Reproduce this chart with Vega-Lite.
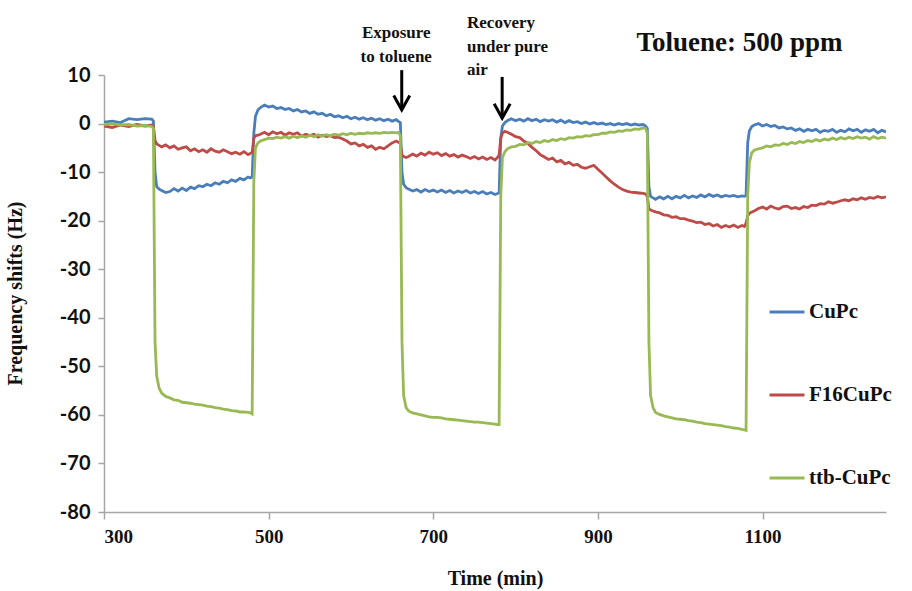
{
  "$schema": "https://vega.github.io/schema/vega-lite/v6.json",
  "width": 782,
  "height": 437,
  "autosize": {"type": "none"},
  "padding": {"left": 104, "top": 75, "right": 26, "bottom": 79},
  "background": "white",
  "config": {"view": {"stroke": null}},
  "datasets": {
    "series": [
      {"t": 300, "CuPc": 0.3, "F16CuPc": -0.5, "ttb-CuPc": -0.2},
      {"t": 310, "CuPc": 0.5, "F16CuPc": -0.8, "ttb-CuPc": 0.0},
      {"t": 320, "CuPc": 0.2, "F16CuPc": -0.3, "ttb-CuPc": -0.3},
      {"t": 330, "CuPc": 1.0, "F16CuPc": -0.6, "ttb-CuPc": -0.2},
      {"t": 340, "CuPc": 0.8, "F16CuPc": -0.2, "ttb-CuPc": -0.5},
      {"t": 350, "CuPc": 1.0, "F16CuPc": -0.5, "ttb-CuPc": -0.4},
      {"t": 358, "CuPc": 0.9, "F16CuPc": -0.3, "ttb-CuPc": -0.6},
      {"t": 360, "CuPc": 0.5, "F16CuPc": -0.6, "ttb-CuPc": -1.0},
      {"t": 362, "CuPc": -10, "F16CuPc": -3.5, "ttb-CuPc": -45},
      {"t": 364, "CuPc": -13, "F16CuPc": -4.2, "ttb-CuPc": -52},
      {"t": 367, "CuPc": -13.5, "F16CuPc": -4.5, "ttb-CuPc": -54.5},
      {"t": 370, "CuPc": -13.8, "F16CuPc": -4.8, "ttb-CuPc": -55.5},
      {"t": 375, "CuPc": -14.2, "F16CuPc": -4.4, "ttb-CuPc": -56.2},
      {"t": 380, "CuPc": -14.0, "F16CuPc": -5.0, "ttb-CuPc": -56.5},
      {"t": 385, "CuPc": -13.4, "F16CuPc": -4.6, "ttb-CuPc": -56.9},
      {"t": 390, "CuPc": -13.9, "F16CuPc": -5.3, "ttb-CuPc": -57.0},
      {"t": 395, "CuPc": -13.3, "F16CuPc": -5.0, "ttb-CuPc": -57.4},
      {"t": 400, "CuPc": -13.8, "F16CuPc": -4.8, "ttb-CuPc": -57.5},
      {"t": 405, "CuPc": -13.1, "F16CuPc": -5.6, "ttb-CuPc": -57.6},
      {"t": 410, "CuPc": -13.4, "F16CuPc": -5.2, "ttb-CuPc": -57.8},
      {"t": 415, "CuPc": -12.8, "F16CuPc": -5.8, "ttb-CuPc": -57.9},
      {"t": 420, "CuPc": -13.0, "F16CuPc": -5.4, "ttb-CuPc": -58.0},
      {"t": 425, "CuPc": -12.5, "F16CuPc": -5.9, "ttb-CuPc": -58.2},
      {"t": 430, "CuPc": -12.8, "F16CuPc": -5.2, "ttb-CuPc": -58.3},
      {"t": 435, "CuPc": -12.2, "F16CuPc": -5.7, "ttb-CuPc": -58.5},
      {"t": 440, "CuPc": -12.5, "F16CuPc": -5.9, "ttb-CuPc": -58.6},
      {"t": 445, "CuPc": -11.9, "F16CuPc": -5.4, "ttb-CuPc": -58.8},
      {"t": 450, "CuPc": -12.2, "F16CuPc": -5.8, "ttb-CuPc": -58.9},
      {"t": 455, "CuPc": -11.6, "F16CuPc": -6.2, "ttb-CuPc": -59.1},
      {"t": 460, "CuPc": -11.9, "F16CuPc": -5.9, "ttb-CuPc": -59.2},
      {"t": 465, "CuPc": -11.3, "F16CuPc": -6.3, "ttb-CuPc": -59.4},
      {"t": 470, "CuPc": -11.6, "F16CuPc": -5.8, "ttb-CuPc": -59.4},
      {"t": 475, "CuPc": -11.0, "F16CuPc": -6.4, "ttb-CuPc": -59.5},
      {"t": 478, "CuPc": -11.2, "F16CuPc": -6.1, "ttb-CuPc": -59.6},
      {"t": 480, "CuPc": -11.0, "F16CuPc": -6.0, "ttb-CuPc": -59.8},
      {"t": 482, "CuPc": -2, "F16CuPc": -3.0, "ttb-CuPc": -12},
      {"t": 484, "CuPc": 1.5, "F16CuPc": -2.5, "ttb-CuPc": -5},
      {"t": 487, "CuPc": 2.8, "F16CuPc": -2.4, "ttb-CuPc": -4},
      {"t": 490, "CuPc": 3.3, "F16CuPc": -2.2, "ttb-CuPc": -3.6},
      {"t": 495, "CuPc": 3.8, "F16CuPc": -1.8, "ttb-CuPc": -3.3},
      {"t": 500, "CuPc": 3.4, "F16CuPc": -2.3, "ttb-CuPc": -3.0},
      {"t": 505, "CuPc": 3.6, "F16CuPc": -1.7, "ttb-CuPc": -3.1},
      {"t": 510, "CuPc": 3.1, "F16CuPc": -2.1, "ttb-CuPc": -2.8},
      {"t": 515, "CuPc": 3.3, "F16CuPc": -1.8, "ttb-CuPc": -3.0},
      {"t": 520, "CuPc": 2.9, "F16CuPc": -2.4, "ttb-CuPc": -2.7},
      {"t": 525, "CuPc": 3.1, "F16CuPc": -1.9, "ttb-CuPc": -3.0},
      {"t": 530, "CuPc": 2.6, "F16CuPc": -2.2, "ttb-CuPc": -2.6},
      {"t": 535, "CuPc": 2.9, "F16CuPc": -1.9, "ttb-CuPc": -2.9},
      {"t": 540, "CuPc": 2.4, "F16CuPc": -2.6, "ttb-CuPc": -2.5},
      {"t": 545, "CuPc": 2.6, "F16CuPc": -2.2, "ttb-CuPc": -2.8},
      {"t": 550, "CuPc": 2.1, "F16CuPc": -2.5, "ttb-CuPc": -2.4},
      {"t": 555, "CuPc": 2.4, "F16CuPc": -2.2, "ttb-CuPc": -2.7},
      {"t": 560, "CuPc": 1.9, "F16CuPc": -2.8, "ttb-CuPc": -2.3},
      {"t": 565, "CuPc": 2.1, "F16CuPc": -2.4, "ttb-CuPc": -2.6},
      {"t": 570, "CuPc": 1.6, "F16CuPc": -2.7, "ttb-CuPc": -2.3},
      {"t": 575, "CuPc": 1.9, "F16CuPc": -2.5, "ttb-CuPc": -2.5},
      {"t": 580, "CuPc": 1.4, "F16CuPc": -2.9, "ttb-CuPc": -2.2},
      {"t": 585, "CuPc": 1.6, "F16CuPc": -2.8, "ttb-CuPc": -2.4},
      {"t": 590, "CuPc": 1.2, "F16CuPc": -3.2, "ttb-CuPc": -2.1},
      {"t": 595, "CuPc": 1.5, "F16CuPc": -3.6, "ttb-CuPc": -2.3},
      {"t": 600, "CuPc": 1.0, "F16CuPc": -4.2, "ttb-CuPc": -2.0},
      {"t": 605, "CuPc": 1.3, "F16CuPc": -4.0, "ttb-CuPc": -2.2},
      {"t": 610, "CuPc": 0.9, "F16CuPc": -4.6, "ttb-CuPc": -2.0},
      {"t": 615, "CuPc": 1.2, "F16CuPc": -4.3, "ttb-CuPc": -2.1},
      {"t": 620, "CuPc": 0.8, "F16CuPc": -4.9, "ttb-CuPc": -1.9},
      {"t": 625, "CuPc": 1.1, "F16CuPc": -4.6, "ttb-CuPc": -2.0},
      {"t": 630, "CuPc": 0.7, "F16CuPc": -5.3, "ttb-CuPc": -1.9},
      {"t": 635, "CuPc": 1.0, "F16CuPc": -4.9, "ttb-CuPc": -2.0},
      {"t": 640, "CuPc": 0.6, "F16CuPc": -5.2, "ttb-CuPc": -1.8},
      {"t": 645, "CuPc": 0.9, "F16CuPc": -4.6, "ttb-CuPc": -1.9},
      {"t": 650, "CuPc": 0.5, "F16CuPc": -4.0, "ttb-CuPc": -1.8},
      {"t": 655, "CuPc": 0.8, "F16CuPc": -3.6, "ttb-CuPc": -1.9},
      {"t": 658, "CuPc": 0.4, "F16CuPc": -3.9, "ttb-CuPc": -1.8},
      {"t": 660, "CuPc": 0.2, "F16CuPc": -4.0, "ttb-CuPc": -2.5},
      {"t": 662, "CuPc": -10, "F16CuPc": -6.5, "ttb-CuPc": -45},
      {"t": 664, "CuPc": -12.5, "F16CuPc": -6.8, "ttb-CuPc": -56},
      {"t": 667, "CuPc": -13.2, "F16CuPc": -7.0, "ttb-CuPc": -58.5},
      {"t": 670, "CuPc": -13.5, "F16CuPc": -6.8, "ttb-CuPc": -59.2},
      {"t": 675, "CuPc": -13.9, "F16CuPc": -6.3, "ttb-CuPc": -59.6},
      {"t": 680, "CuPc": -13.6, "F16CuPc": -6.7, "ttb-CuPc": -59.8},
      {"t": 685, "CuPc": -14.1, "F16CuPc": -6.1, "ttb-CuPc": -60.0},
      {"t": 690, "CuPc": -13.6, "F16CuPc": -6.5, "ttb-CuPc": -60.2},
      {"t": 695, "CuPc": -14.0, "F16CuPc": -5.9, "ttb-CuPc": -60.4},
      {"t": 700, "CuPc": -13.7, "F16CuPc": -6.3, "ttb-CuPc": -60.5},
      {"t": 705, "CuPc": -14.1, "F16CuPc": -6.0, "ttb-CuPc": -60.5},
      {"t": 710, "CuPc": -13.7, "F16CuPc": -6.6, "ttb-CuPc": -60.6},
      {"t": 715, "CuPc": -14.2, "F16CuPc": -6.2, "ttb-CuPc": -60.8},
      {"t": 720, "CuPc": -13.8, "F16CuPc": -6.7, "ttb-CuPc": -60.9},
      {"t": 725, "CuPc": -14.3, "F16CuPc": -6.4, "ttb-CuPc": -61.0},
      {"t": 730, "CuPc": -13.9, "F16CuPc": -6.9, "ttb-CuPc": -61.1},
      {"t": 735, "CuPc": -14.2, "F16CuPc": -6.5, "ttb-CuPc": -61.2},
      {"t": 740, "CuPc": -13.8, "F16CuPc": -6.8, "ttb-CuPc": -61.3},
      {"t": 745, "CuPc": -14.3, "F16CuPc": -7.2, "ttb-CuPc": -61.4},
      {"t": 750, "CuPc": -14.0, "F16CuPc": -6.8, "ttb-CuPc": -61.5},
      {"t": 755, "CuPc": -14.4, "F16CuPc": -7.3, "ttb-CuPc": -61.5},
      {"t": 760, "CuPc": -14.0, "F16CuPc": -6.9, "ttb-CuPc": -61.6},
      {"t": 765, "CuPc": -14.5, "F16CuPc": -7.4, "ttb-CuPc": -61.7},
      {"t": 770, "CuPc": -14.2, "F16CuPc": -7.0, "ttb-CuPc": -61.8},
      {"t": 775, "CuPc": -14.6, "F16CuPc": -7.5, "ttb-CuPc": -61.9},
      {"t": 778, "CuPc": -14.4, "F16CuPc": -7.0, "ttb-CuPc": -62.0},
      {"t": 780, "CuPc": -14.3, "F16CuPc": -6.5, "ttb-CuPc": -62.0},
      {"t": 782, "CuPc": -3, "F16CuPc": -3.0, "ttb-CuPc": -15},
      {"t": 784, "CuPc": -0.5, "F16CuPc": -2.0, "ttb-CuPc": -7},
      {"t": 787, "CuPc": 0.2, "F16CuPc": -1.6, "ttb-CuPc": -5.8},
      {"t": 790, "CuPc": 0.6, "F16CuPc": -1.8, "ttb-CuPc": -5.2},
      {"t": 795, "CuPc": 1.0, "F16CuPc": -2.2, "ttb-CuPc": -4.8},
      {"t": 800, "CuPc": 0.6, "F16CuPc": -2.7, "ttb-CuPc": -4.7},
      {"t": 805, "CuPc": 0.9, "F16CuPc": -2.9, "ttb-CuPc": -4.3},
      {"t": 810, "CuPc": 0.5, "F16CuPc": -3.6, "ttb-CuPc": -4.4},
      {"t": 815, "CuPc": 1.0, "F16CuPc": -4.1, "ttb-CuPc": -3.9},
      {"t": 820, "CuPc": 0.6, "F16CuPc": -4.9, "ttb-CuPc": -4.1},
      {"t": 825, "CuPc": 0.9, "F16CuPc": -5.6, "ttb-CuPc": -3.7},
      {"t": 830, "CuPc": 0.4, "F16CuPc": -6.4, "ttb-CuPc": -3.9},
      {"t": 835, "CuPc": 0.8, "F16CuPc": -6.9, "ttb-CuPc": -3.5},
      {"t": 840, "CuPc": 0.5, "F16CuPc": -7.4, "ttb-CuPc": -3.7},
      {"t": 845, "CuPc": 0.8, "F16CuPc": -7.1, "ttb-CuPc": -3.3},
      {"t": 850, "CuPc": 0.3, "F16CuPc": -7.9, "ttb-CuPc": -3.5},
      {"t": 855, "CuPc": 0.7, "F16CuPc": -7.6, "ttb-CuPc": -3.1},
      {"t": 860, "CuPc": 0.2, "F16CuPc": -8.3, "ttb-CuPc": -3.3},
      {"t": 865, "CuPc": 0.6, "F16CuPc": -8.0, "ttb-CuPc": -2.9},
      {"t": 870, "CuPc": 0.2, "F16CuPc": -8.6, "ttb-CuPc": -3.0},
      {"t": 875, "CuPc": 0.4, "F16CuPc": -8.4, "ttb-CuPc": -2.7},
      {"t": 880, "CuPc": 0.0, "F16CuPc": -9.0, "ttb-CuPc": -2.8},
      {"t": 885, "CuPc": 0.3, "F16CuPc": -9.2, "ttb-CuPc": -2.5},
      {"t": 890, "CuPc": -0.1, "F16CuPc": -8.9, "ttb-CuPc": -2.6},
      {"t": 895, "CuPc": 0.2, "F16CuPc": -8.6, "ttb-CuPc": -2.3},
      {"t": 900, "CuPc": -0.1, "F16CuPc": -9.4, "ttb-CuPc": -2.3},
      {"t": 905, "CuPc": 0.1, "F16CuPc": -10.2, "ttb-CuPc": -2.0},
      {"t": 910, "CuPc": -0.2, "F16CuPc": -11.0, "ttb-CuPc": -2.0},
      {"t": 915, "CuPc": 0.0, "F16CuPc": -11.8, "ttb-CuPc": -1.7},
      {"t": 920, "CuPc": -0.3, "F16CuPc": -12.5, "ttb-CuPc": -1.8},
      {"t": 925, "CuPc": 0.0, "F16CuPc": -13.1, "ttb-CuPc": -1.5},
      {"t": 930, "CuPc": -0.2, "F16CuPc": -13.6, "ttb-CuPc": -1.6},
      {"t": 935, "CuPc": 0.0, "F16CuPc": -13.9, "ttb-CuPc": -1.3},
      {"t": 940, "CuPc": -0.3, "F16CuPc": -14.1, "ttb-CuPc": -1.4},
      {"t": 945, "CuPc": -0.1, "F16CuPc": -14.2, "ttb-CuPc": -1.1},
      {"t": 950, "CuPc": -0.3, "F16CuPc": -14.3, "ttb-CuPc": -1.2},
      {"t": 955, "CuPc": -0.2, "F16CuPc": -14.4, "ttb-CuPc": -0.9},
      {"t": 958, "CuPc": -0.5, "F16CuPc": -14.5, "ttb-CuPc": -1.0},
      {"t": 960, "CuPc": -1.0, "F16CuPc": -15.0, "ttb-CuPc": -2},
      {"t": 962, "CuPc": -13, "F16CuPc": -17.5, "ttb-CuPc": -45},
      {"t": 964, "CuPc": -15.0, "F16CuPc": -17.8, "ttb-CuPc": -56},
      {"t": 967, "CuPc": -15.3, "F16CuPc": -18.0, "ttb-CuPc": -58.5},
      {"t": 970, "CuPc": -15.6, "F16CuPc": -18.2, "ttb-CuPc": -59.5},
      {"t": 975, "CuPc": -15.1, "F16CuPc": -18.4, "ttb-CuPc": -59.9},
      {"t": 980, "CuPc": -15.5, "F16CuPc": -18.8, "ttb-CuPc": -60.2},
      {"t": 985, "CuPc": -15.0, "F16CuPc": -18.9, "ttb-CuPc": -60.4},
      {"t": 990, "CuPc": -15.5, "F16CuPc": -19.3, "ttb-CuPc": -60.6},
      {"t": 995, "CuPc": -15.0, "F16CuPc": -19.2, "ttb-CuPc": -60.8},
      {"t": 1000, "CuPc": -15.3, "F16CuPc": -19.6, "ttb-CuPc": -60.9},
      {"t": 1005, "CuPc": -14.8, "F16CuPc": -19.6, "ttb-CuPc": -61.0},
      {"t": 1010, "CuPc": -15.3, "F16CuPc": -19.9, "ttb-CuPc": -61.2},
      {"t": 1015, "CuPc": -14.9, "F16CuPc": -20.1, "ttb-CuPc": -61.3},
      {"t": 1020, "CuPc": -15.2, "F16CuPc": -20.4, "ttb-CuPc": -61.5},
      {"t": 1025, "CuPc": -14.7, "F16CuPc": -20.3, "ttb-CuPc": -61.6},
      {"t": 1030, "CuPc": -15.1, "F16CuPc": -20.8, "ttb-CuPc": -61.8},
      {"t": 1035, "CuPc": -14.6, "F16CuPc": -20.6, "ttb-CuPc": -61.9},
      {"t": 1040, "CuPc": -15.0, "F16CuPc": -21.1, "ttb-CuPc": -62.0},
      {"t": 1045, "CuPc": -14.7, "F16CuPc": -20.8, "ttb-CuPc": -62.1},
      {"t": 1050, "CuPc": -15.1, "F16CuPc": -21.4, "ttb-CuPc": -62.2},
      {"t": 1055, "CuPc": -14.8, "F16CuPc": -21.0, "ttb-CuPc": -62.4},
      {"t": 1060, "CuPc": -15.0, "F16CuPc": -21.3, "ttb-CuPc": -62.5},
      {"t": 1065, "CuPc": -14.8, "F16CuPc": -20.9, "ttb-CuPc": -62.7},
      {"t": 1070, "CuPc": -15.1, "F16CuPc": -21.4, "ttb-CuPc": -62.8},
      {"t": 1075, "CuPc": -14.9, "F16CuPc": -21.0, "ttb-CuPc": -63.0},
      {"t": 1078, "CuPc": -15.0, "F16CuPc": -21.2, "ttb-CuPc": -63.1},
      {"t": 1080, "CuPc": -14.8, "F16CuPc": -20.5, "ttb-CuPc": -63.2},
      {"t": 1082, "CuPc": -4, "F16CuPc": -19.0, "ttb-CuPc": -15},
      {"t": 1084, "CuPc": -1.5, "F16CuPc": -18.5, "ttb-CuPc": -8},
      {"t": 1087, "CuPc": -0.6, "F16CuPc": -18.2, "ttb-CuPc": -6},
      {"t": 1090, "CuPc": -0.3, "F16CuPc": -18.0, "ttb-CuPc": -5.5},
      {"t": 1095, "CuPc": 0.0, "F16CuPc": -17.5, "ttb-CuPc": -5.2},
      {"t": 1100, "CuPc": -0.5, "F16CuPc": -17.2, "ttb-CuPc": -5.0},
      {"t": 1105, "CuPc": -0.2, "F16CuPc": -17.6, "ttb-CuPc": -4.6},
      {"t": 1110, "CuPc": -0.6, "F16CuPc": -17.0, "ttb-CuPc": -4.8},
      {"t": 1115, "CuPc": -0.4, "F16CuPc": -17.4, "ttb-CuPc": -4.4},
      {"t": 1120, "CuPc": -0.9, "F16CuPc": -17.6, "ttb-CuPc": -4.5},
      {"t": 1125, "CuPc": -0.7, "F16CuPc": -17.1, "ttb-CuPc": -4.1},
      {"t": 1130, "CuPc": -1.1, "F16CuPc": -17.0, "ttb-CuPc": -4.3},
      {"t": 1135, "CuPc": -0.9, "F16CuPc": -17.5, "ttb-CuPc": -3.9},
      {"t": 1140, "CuPc": -1.4, "F16CuPc": -17.3, "ttb-CuPc": -4.1},
      {"t": 1145, "CuPc": -1.1, "F16CuPc": -17.6, "ttb-CuPc": -3.7},
      {"t": 1150, "CuPc": -1.6, "F16CuPc": -17.1, "ttb-CuPc": -3.9},
      {"t": 1155, "CuPc": -1.2, "F16CuPc": -17.3, "ttb-CuPc": -3.5},
      {"t": 1160, "CuPc": -1.5, "F16CuPc": -16.8, "ttb-CuPc": -3.7},
      {"t": 1165, "CuPc": -1.2, "F16CuPc": -16.9, "ttb-CuPc": -3.3},
      {"t": 1170, "CuPc": -1.8, "F16CuPc": -16.5, "ttb-CuPc": -3.6},
      {"t": 1175, "CuPc": -1.4, "F16CuPc": -16.6, "ttb-CuPc": -3.2},
      {"t": 1180, "CuPc": -1.6, "F16CuPc": -16.1, "ttb-CuPc": -3.4},
      {"t": 1185, "CuPc": -1.2, "F16CuPc": -16.4, "ttb-CuPc": -3.0},
      {"t": 1190, "CuPc": -1.8, "F16CuPc": -16.2, "ttb-CuPc": -3.3},
      {"t": 1195, "CuPc": -1.4, "F16CuPc": -15.9, "ttb-CuPc": -2.9},
      {"t": 1200, "CuPc": -1.7, "F16CuPc": -15.7, "ttb-CuPc": -3.2},
      {"t": 1205, "CuPc": -1.1, "F16CuPc": -15.9, "ttb-CuPc": -2.8},
      {"t": 1210, "CuPc": -1.5, "F16CuPc": -15.5, "ttb-CuPc": -3.1},
      {"t": 1215, "CuPc": -1.2, "F16CuPc": -15.7, "ttb-CuPc": -2.7},
      {"t": 1220, "CuPc": -1.8, "F16CuPc": -15.3, "ttb-CuPc": -3.0},
      {"t": 1225, "CuPc": -1.3, "F16CuPc": -15.6, "ttb-CuPc": -2.8},
      {"t": 1230, "CuPc": -1.6, "F16CuPc": -15.2, "ttb-CuPc": -3.2},
      {"t": 1235, "CuPc": -1.2, "F16CuPc": -15.4, "ttb-CuPc": -2.7},
      {"t": 1240, "CuPc": -1.9, "F16CuPc": -15.0, "ttb-CuPc": -3.1},
      {"t": 1245, "CuPc": -1.4, "F16CuPc": -15.3, "ttb-CuPc": -2.8},
      {"t": 1250, "CuPc": -1.7, "F16CuPc": -15.1, "ttb-CuPc": -3.0}
    ],
    "arrows": [
      {"t": 661.7, "top": 11.0, "tip": 2.8},
      {"t": 783.7, "top": 9.6, "tip": 1.1}
    ],
    "notesCenter": [
      {"t": 655, "v": 18.65, "label": "Exposure"},
      {"t": 655, "v": 13.7, "label": "to toluene"}
    ],
    "notesLeft": [
      {"t": 741, "v": 20.7, "label": "Recovery"},
      {"t": 741, "v": 15.8, "label": "under pure"},
      {"t": 741, "v": 11.0, "label": "air"}
    ],
    "heading": [
      {"t": 1072, "v": 16.6, "label": "Toluene: 500 ppm"}
    ]
  },
  "encoding": {
    "x": {
      "field": "t", "type": "quantitative",
      "scale": {"domain": [300, 1250], "nice": false, "zero": false},
      "axis": {
        "title": "Time (min)",
        "values": [300, 500, 700, 900, 1100],
        "labelExpr": "datum.value + ''",
        "grid": false,
        "domainColor": "#a6a6a6", "domainWidth": 1.5,
        "tickColor": "#a6a6a6", "tickWidth": 1.5, "tickSize": 7,
        "labelFont": "Liberation Serif", "labelFontWeight": "bold", "labelFontSize": 19, "labelColor": "#111",
        "labelPadding": 8,
        "titleFont": "Liberation Serif", "titleFontWeight": "bold", "titleFontSize": 20, "titleColor": "#111",
        "titleY": 66, "titleBaseline": "middle"
      }
    }
  },
  "layer": [
    {
      "data": {"name": "series"},
      "transform": [{"fold": ["CuPc", "F16CuPc", "ttb-CuPc"], "as": ["series", "value"]}],
      "mark": {"type": "line", "strokeWidth": 2.8, "clip": true},
      "encoding": {
        "y": {
          "field": "value", "type": "quantitative",
          "scale": {"domain": [-80, 10], "nice": false},
          "axis": {
            "title": "Frequency shifts (Hz)",
            "values": [-80, -70, -60, -50, -40, -30, -20, -10, 0, 10],
            "labelExpr": "datum.value + ''",
            "grid": false,
            "domainColor": "#a6a6a6", "domainWidth": 1.5,
            "tickColor": "#a6a6a6", "tickWidth": 1.5, "tickSize": 6,
            "labelFont": "Lato", "labelFontWeight": "bold", "labelFontSize": 20, "labelColor": "#111",
            "labelPadding": 8,
            "titleFont": "Liberation Serif", "titleFontWeight": "bold", "titleFontSize": 20, "titleColor": "#111",
            "titleX": -89, "titleY": 218, "titleAngle": 270, "titleAlign": "center", "titleBaseline": "middle"
          }
        },
        "color": {
          "field": "series", "type": "nominal",
          "scale": {"domain": ["CuPc", "F16CuPc", "ttb-CuPc"], "range": ["#4a7ebb", "#be4b48", "#98b954"]},
          "legend": {
            "title": null,
            "orient": "none",
            "legendX": 664,
            "legendY": 218,
            "direction": "vertical",
            "symbolType": "stroke",
            "symbolSize": 1225,
            "symbolStrokeWidth": 3,
            "labelFont": "Liberation Serif", "labelFontWeight": "bold", "labelFontSize": 21, "labelColor": "#111",
            "labelOffset": 3,
            "rowPadding": 54
          }
        },
        "order": {"field": "t", "type": "quantitative"}
      }
    },
    {
      "data": {"name": "arrows"},
      "mark": {"type": "rule", "color": "black", "strokeWidth": 3},
      "encoding": {
        "y": {"field": "top", "type": "quantitative"},
        "y2": {"field": "tip"}
      }
    },
    {
      "data": {"name": "arrows"},
      "mark": {"type": "point", "shape": "M-1,-1.8L0,0L1,-1.8", "size": 256, "filled": false, "stroke": "black", "strokeWidth": 3, "opacity": 1},
      "encoding": {
        "y": {"field": "tip", "type": "quantitative"}
      }
    },
    {
      "data": {"name": "notesCenter"},
      "mark": {"type": "text", "font": "Liberation Serif", "fontWeight": "bold", "fontSize": 17, "align": "center", "baseline": "middle", "color": "#111"},
      "encoding": {
        "y": {"field": "v", "type": "quantitative"},
        "text": {"field": "label"}
      }
    },
    {
      "data": {"name": "notesLeft"},
      "mark": {"type": "text", "font": "Liberation Serif", "fontWeight": "bold", "fontSize": 17, "align": "left", "baseline": "middle", "color": "#111"},
      "encoding": {
        "y": {"field": "v", "type": "quantitative"},
        "text": {"field": "label"}
      }
    },
    {
      "data": {"name": "heading"},
      "mark": {"type": "text", "font": "Liberation Serif", "fontWeight": "bold", "fontSize": 27, "align": "center", "baseline": "middle", "color": "#111"},
      "encoding": {
        "y": {"field": "v", "type": "quantitative"},
        "text": {"field": "label"}
      }
    }
  ],
  "resolve": {"scale": {"y": "shared"}}
}
